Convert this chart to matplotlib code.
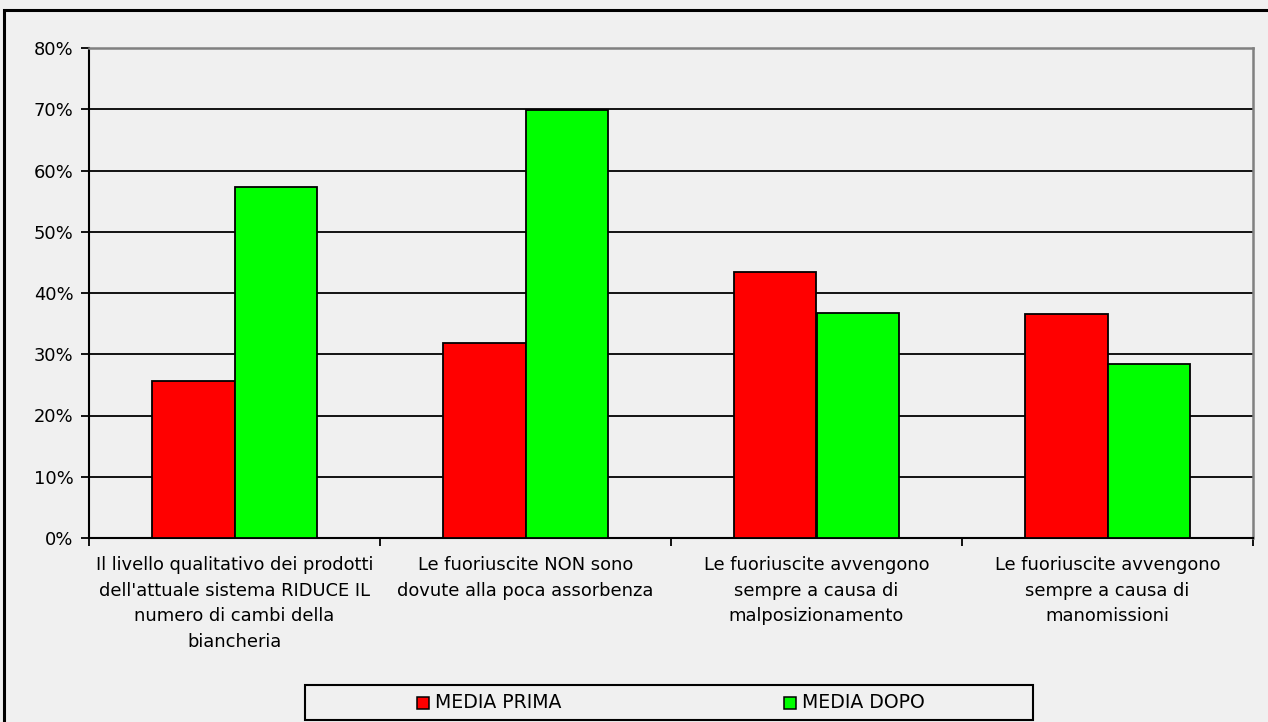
import matplotlib
matplotlib.use("Agg")
import matplotlib.pyplot as plt
from matplotlib.patches import Rectangle
import numpy as np

categories = [
    "Il livello qualitativo dei prodotti\ndell'attuale sistema RIDUCE IL\nnumero di cambi della\nbiancheria",
    "Le fuoriuscite NON sono\ndovute alla poca assorbenza",
    "Le fuoriuscite avvengono\nsempre a causa di\nmalposizionamento",
    "Le fuoriuscite avvengono\nsempre a causa di\nmanomissioni",
]
media_prima = [25.6, 31.8, 43.4, 36.6]
media_dopo = [57.3, 69.9, 36.7, 28.4]
series_names = ["MEDIA PRIMA", "MEDIA DOPO"]
series_colors = ["#FF0000", "#00FF00"]
y_ticks = [0, 10, 20, 30, 40, 50, 60, 70, 80]

W, H = 1268, 722
bg = "#F0F0F0"
plt.rcParams["font.family"] = ["DejaVu Sans"]
fs = 12.9

fig = plt.figure(figsize=(W / 100, H / 100), dpi=100, facecolor=bg)
ax = fig.add_axes([89 / W, 1 - 538 / H, (1253 - 89) / W, (538 - 48) / H])
ax.set_facecolor(bg)

x = np.arange(len(categories))
bw = 0.285
for i, (vals, col) in enumerate(zip([media_prima, media_dopo], series_colors)):
    ax.bar(x + (i - 0.5) * bw, vals, width=bw, color=col, edgecolor="black",
           linewidth=1.3, zorder=3)

ax.set_xlim(-0.5, len(categories) - 0.5)
ax.set_ylim(0, 80)
ax.set_yticks(y_ticks)
ax.set_yticklabels([f"{v}%" for v in y_ticks], fontsize=fs)
ax.yaxis.grid(True, color="black", linewidth=1.3, zorder=0)
ax.set_axisbelow(True)

ax.set_xticks(np.arange(len(categories) + 1) - 0.5)
ax.set_xticklabels([])
ax.set_xticks(x, minor=True)
ax.set_xticklabels(categories, minor=True, fontsize=fs, linespacing=1.55)
ax.tick_params(axis="x", which="minor", length=0, pad=13)
ax.tick_params(axis="x", which="major", length=6, width=1.3, direction="out")
ax.tick_params(axis="y", length=6, width=1.3, direction="out", pad=5)

for s in ["left", "bottom"]:
    ax.spines[s].set_color("black")
    ax.spines[s].set_linewidth(1.5)
for s in ["top", "right"]:
    ax.spines[s].set_color("#808080")
    ax.spines[s].set_linewidth(1.8)

# outer chart frame
fig.patches.append(Rectangle((4 / W, -0.1), 1.2, 1 - 10 / H + 0.1,
                             transform=fig.transFigure, fill=False,
                             edgecolor="black", linewidth=2.2))

# legend box
lx0, lx1, ly0, ly1 = 305, 1033, 685, 720
fig.patches.append(Rectangle((lx0 / W, 1 - ly1 / H), (lx1 - lx0) / W, (ly1 - ly0) / H,
                             transform=fig.transFigure, facecolor=bg,
                             edgecolor="black", linewidth=1.5))
ly = 703
for name, col, mx in zip(series_names, series_colors, [417, 784]):
    fig.patches.append(Rectangle((mx / W, 1 - (ly + 6) / H), 12 / W, 12 / H,
                                 transform=fig.transFigure, facecolor=col,
                                 edgecolor="black", linewidth=1.1))
    fig.text((mx + 18) / W, 1 - (ly - 0.5) / H, name, fontsize=13.6,
             va="center", ha="left")

fig.savefig("out.png", dpi=100, facecolor=bg)
